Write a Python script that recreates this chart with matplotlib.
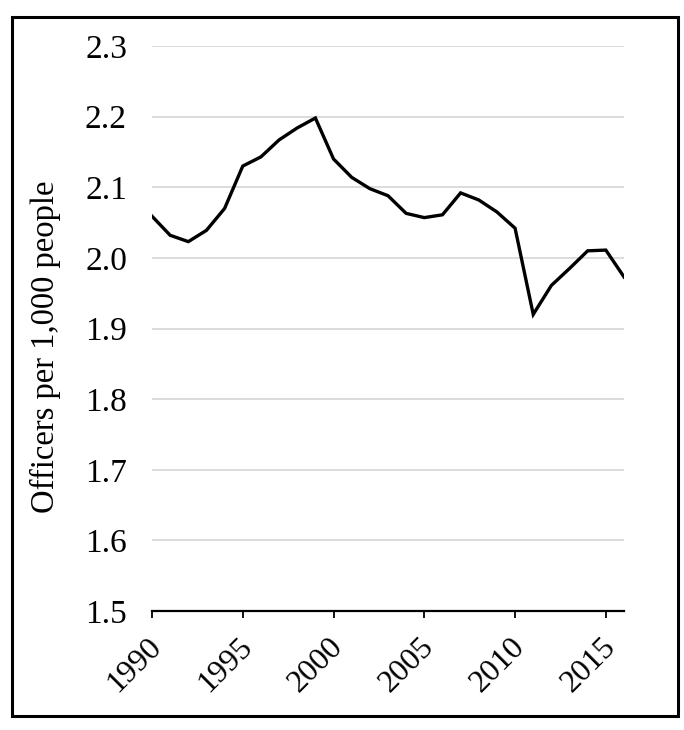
"""Police officers per 1,000 people, 1990-2016."""

import matplotlib

matplotlib.use("Agg")
import matplotlib.pyplot as plt
from matplotlib.patches import Rectangle
from matplotlib.transforms import ScaledTranslation

YEARS = list(range(1990, 2017))
OFFICERS_PER_1000 = [
    2.059, 2.032, 2.023, 2.039, 2.070, 2.130, 2.143, 2.167, 2.184, 2.198,
    2.140, 2.114, 2.098, 2.088, 2.063, 2.057, 2.061, 2.092, 2.082, 2.065,
    2.042, 1.920, 1.961, 1.985, 2.010, 2.011, 1.973,
]
X_TICKS = [1990, 1995, 2000, 2005, 2010, 2015]
Y_TICKS = [1.5, 1.6, 1.7, 1.8, 1.9, 2.0, 2.1, 2.2, 2.3]
Y_LABEL = "Officers per 1,000 people"

W, H = 684, 730

plt.rcParams["font.family"] = ["Liberation Serif", "DejaVu Serif"]

fig = plt.figure(figsize=(W / 100, H / 100), dpi=100)
ax = fig.add_axes([152 / W, 1 - 611 / H, (624 - 152) / W, (611 - 46) / H])

ax.plot(YEARS, OFFICERS_PER_1000, color="black", lw=2.4, solid_joinstyle="miter",
        zorder=3)

ax.set_xlim(1990, 2016)
ax.set_ylim(1.5, 2.3)
ax.set_xticks(X_TICKS)
ax.set_yticks(Y_TICKS)
ax.set_yticklabels([f"{v:.1f}" for v in Y_TICKS])
ax.grid(axis="y", color="#d9d9d9", lw=1.3, zorder=0)

for side in ("left", "right", "top"):
    ax.spines[side].set_visible(False)
ax.spines["bottom"].set_linewidth(1.6)
ax.spines["bottom"].set_zorder(4)

ax.tick_params(axis="y", length=0, pad=18, labelsize=24)
ax.tick_params(axis="x", length=5, width=1.3, direction="out", pad=10, labelsize=23)
shift = ScaledTranslation(-5 / 100, 0, fig.dpi_scale_trans)
for lbl in ax.get_xticklabels():
    lbl.set_rotation(45)
    lbl.set_ha("right")
    lbl.set_rotation_mode("anchor")
    lbl.set_transform(lbl.get_transform() + shift)

fig.text(45 / W, 1 - 347 / H, Y_LABEL, rotation=90, ha="center", va="center",
         fontsize=23.5)

fig.patches.append(Rectangle((12 / W, 1 - 716 / H), (678 - 12) / W, (716 - 17) / H,
                             transform=fig.transFigure, fill=False, ec="black",
                             lw=2.2))

fig.savefig("out.png", dpi=100)
